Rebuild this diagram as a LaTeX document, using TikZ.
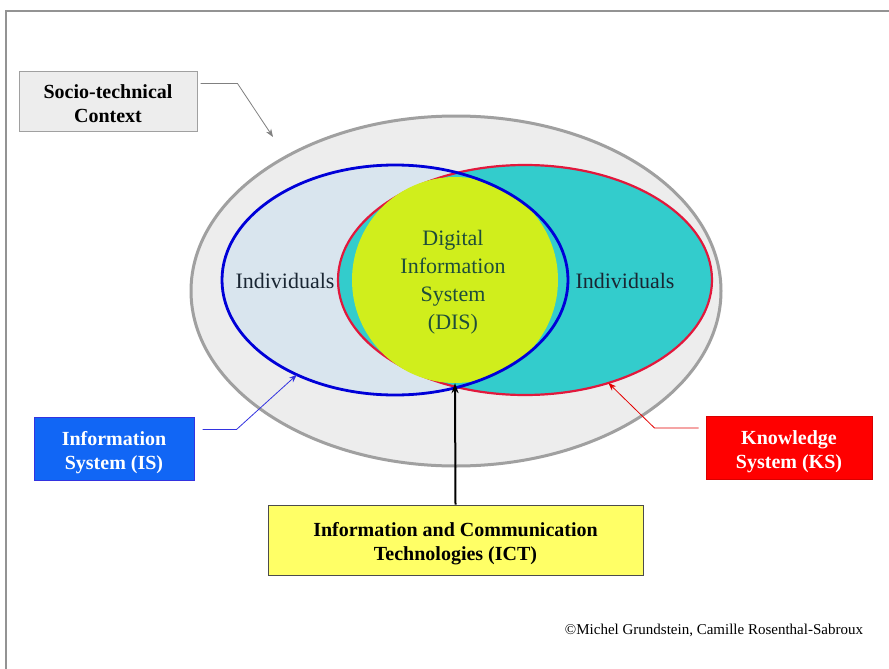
\documentclass[tikz,border=0pt]{standalone}
\usepackage{fontspec}
\setmainfont{Liberation Serif}
\usetikzlibrary{shapes.geometric,arrows.meta}
\definecolor{ctxfill}{HTML}{EDEDED}
\definecolor{ctxline}{HTML}{A0A0A0}
\definecolor{isblue}{HTML}{0000D8}
\definecolor{isfill}{HTML}{D9E5EE}
\definecolor{ksred}{HTML}{E2183C}
\definecolor{ksfill}{HTML}{33CCCC}
\definecolor{disfill}{HTML}{D0EE1C}
\definecolor{isbox}{HTML}{1166F5}
\definecolor{ictfill}{HTML}{FFFF66}
\definecolor{indtext}{HTML}{1A2633}
\definecolor{distext}{HTML}{1E4D3A}
\newcommand{\boxtext}[1]{\raisebox{-4pt}[\height][\depth]{\begin{tabular}{@{}c@{}}#1\end{tabular}}}
\tikzset{
  lbl/.style={rectangle, inner sep=0pt, align=center, font=\fontsize{20}{24}\selectfont\bfseries},
  ell/.style={ellipse, inner sep=0pt, outer sep=0pt},
  big/.style={font=\fontsize{22}{28}\selectfont, align=center},
  conn/.style={line width=0.8pt, -{Stealth[length=8pt,width=6pt]}}
}
\begin{document}
\begin{tikzpicture}[x=1pt,y=-1pt]
\useasboundingbox (0,0) rectangle (889,669);
\fill[white] (0,0) rectangle (889,669);
\draw[gray!85, line width=1.5pt] (6,669) -- (6,11) -- (889,11);
% ellipses
\node[ell, fill=ctxfill, draw=ctxline, line width=3pt, minimum width=530pt, minimum height=350pt] (outer) at (456,291) {};
\node[ell, fill=isfill, minimum width=346pt, minimum height=230pt] (blueE) at (395,280) {};
\node[ell, fill=ksfill, draw=ksred, line width=2.2pt, minimum width=374pt, minimum height=230pt] (redE) at (525,280) {};
\node[circle, fill=disfill, inner sep=0pt, minimum size=206pt] (dis) at (455,280) {};
\node[ell, draw=isblue, line width=2.8pt, minimum width=346pt, minimum height=230pt] (blueB) at (395,280) {};
% texts
\node[big, text=indtext] (indL) at (285,281) {Individuals};
\node[big, text=indtext] (indR) at (625,281) {Individuals};
\node[big, text=distext] (distxt) at (453,282) {Digital\\Information\\System\\(DIS)};
% boxes
\node[lbl, fill=ctxfill, draw=ctxline, line width=1pt, minimum width=178pt, minimum height=59pt] (soc) at (108,101.5) {\boxtext{Socio-technical\\Context}};
\node[lbl, fill=isbox, draw=isblue!80, line width=1pt, text=white, minimum width=160pt, minimum height=63pt] (is) at (114,448.5) {\boxtext{Information\\System (IS)}};
\node[lbl, fill=red, draw=red!85!black, line width=1pt, text=white, minimum width=166pt, minimum height=63pt] (ks) at (789,447.5) {\boxtext{Knowledge\\System (KS)}};
\node[lbl, fill=ictfill, draw=black!70, line width=1pt, minimum width=375pt, minimum height=70pt] (ict) at (455.5,540) {\boxtext{Information and Communication\\Technologies (ICT)}};
% connectors
\coordinate (socTip) at (273,137);
\draw[conn, ctxline!80!black] ([xshift=3pt,yshift=18pt]soc.east) -- ++(37,0) -- (socTip);
\draw[conn, isblue!80] ([xshift=8pt,yshift=19pt]is.east) -- ++(34,0) -- (blueB.224);
\draw[conn, red!90!black] ([xshift=-7pt,yshift=19.5pt]ks.west) -- ++(-44,0) -- (redE.-51);
\draw[line width=2pt, -{Stealth[length=10pt,width=7pt]}] (ict.north) -- (dis.south);
\node[font=\fontsize{15}{18}\selectfont] (copy) at (714,630) {©Michel\ Grundstein, Camille\ Rosenthal-Sabroux};
\end{tikzpicture}
\end{document}
